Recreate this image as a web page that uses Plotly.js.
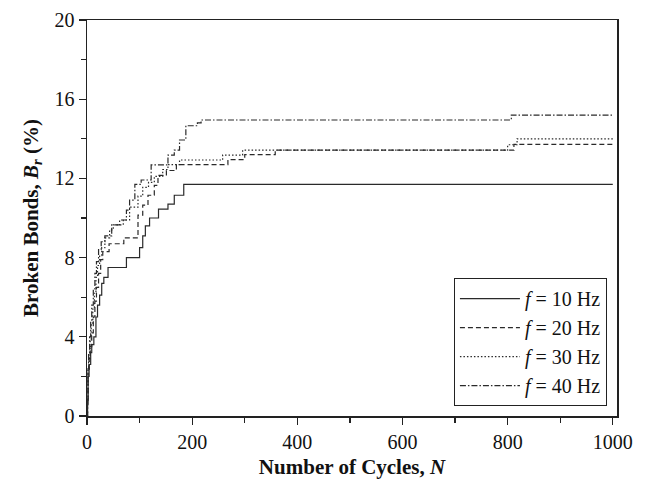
<!DOCTYPE html>
<html>
<head>
<meta charset="utf-8">
<script src="https://cdn.plot.ly/plotly-3.0.1.min.js"></script>
<style>html,body{margin:0;padding:0;background:#fff;}#chart{width:646px;height:488px;}</style>
</head>
<body>
<div id="chart"></div>
<script>
// Number of cycles (x) and broken bonds % (y), step series
var x10 = [0, 1, 2, 4, 7, 9, 13, 17, 20, 24, 28, 32, 40, 75, 100, 106, 111, 119, 136, 154, 166, 184, 1000];
var y10 = [0, 0.6, 2.0, 2.6, 3.2, 3.6, 4.0, 5.0, 5.6, 6.1, 6.7, 7.0, 7.5, 8.0, 8.5, 9.1, 9.6, 10.0, 10.45, 10.7, 11.15, 11.7, 11.7];

var x20 = [0, 1, 2, 4, 6, 9, 12, 15, 18, 22, 26, 30, 42, 70, 97, 106, 116, 128, 135, 151, 170, 268, 300, 358, 812, 1000];
var y20 = [0, 0.7, 2.2, 2.9, 3.5, 4.2, 5.0, 5.8, 6.5, 7.2, 7.9, 8.3, 8.7, 9.0, 10.15, 10.65, 11.15, 11.65, 12.15, 12.4, 12.7, 12.95, 13.2, 13.43, 13.72, 13.72];

var x30 = [0, 1, 2, 4, 6, 8, 11, 14, 17, 20, 24, 28, 34, 43, 50, 69, 81, 97, 106, 117, 128, 144, 154, 176, 258, 296, 800, 818, 1000];
var y30 = [0, 0.8, 2.3, 3.0, 3.8, 4.6, 5.4, 6.2, 7.0, 7.6, 8.1, 8.5, 9.0, 9.4, 9.65, 9.9, 10.55, 11.1, 11.55, 11.8, 12.1, 12.45, 12.7, 12.93, 13.18, 13.43, 13.7, 14.0, 14.0];

var x40 = [0, 1, 2, 3, 5, 7, 9, 12, 15, 18, 22, 27, 34, 47, 62, 75, 81, 91, 103, 122, 154, 166, 176, 188, 210, 217, 807, 1000];
var y40 = [0, 0.9, 2.4, 3.2, 4.0, 4.8, 5.6, 6.4, 7.2, 7.8, 8.4, 8.8, 9.1, 9.65, 9.9, 10.4, 10.9, 11.7, 11.92, 12.68, 13.18, 13.43, 13.94, 14.66, 14.8, 14.95, 15.2, 15.2];

var seriesNames = ["<i>f</i> = 10 Hz", "<i>f</i> = 20 Hz", "<i>f</i> = 30 Hz", "<i>f</i> = 40 Hz"];
var xTicks = [0, 200, 400, 600, 800, 1000];
var yTicks = [0, 4, 8, 12, 16, 20];

var col = "#2a2a2a";
var dashes = ["solid", "5px,3px", "1.5px,2px", "6px,2px,1.5px,2px"];
var xs = [x10, x20, x30, x40], ys = [y10, y20, y30, y40];
var traces = xs.map(function (x, i) {
  return {
    x: x, y: ys[i], name: seriesNames[i], type: "scatter", mode: "lines",
    line: { shape: "hv", color: col, width: 1.2, dash: dashes[i] }
  };
});

var fam = "Liberation Serif, Times New Roman, serif";
var tickFont = { family: fam, size: 20, color: "#111" };
var titleFont = { family: fam, size: 21, color: "#111" };
var layout = {
  width: 646, height: 488,
  margin: { l: 87, r: 29, t: 20, b: 72 },
  paper_bgcolor: "#fff", plot_bgcolor: "#fff",
  font: tickFont,
  showlegend: true,
  legend: {
    x: 0.981, y: 0.025, xanchor: "right", yanchor: "bottom",
    bordercolor: "#222", borderwidth: 1, bgcolor: "#fff",
    font: { family: fam, size: 20, color: "#111" },
    tracegroupgap: 0, itemwidth: 60
  },
  xaxis: {
    range: [0, 1008], tickvals: xTicks, ticktext: xTicks.map(String),
    ticks: "outside", ticklen: 7, tickwidth: 1.3, tickcolor: "#222",
    minor: { dtick: 100, tick0: 0, ticks: "outside", ticklen: 5, tickwidth: 1.3, tickcolor: "#222", showgrid: false },
    showgrid: false, zeroline: false,
    showline: true, linecolor: "#222", linewidth: 1.5, mirror: true,
    tickfont: tickFont,
    title: { text: "<b>Number of Cycles, <i>N</i></b>", font: titleFont, standoff: 8 }
  },
  yaxis: {
    range: [0, 20], tickvals: yTicks, ticktext: yTicks.map(String),
    ticks: "outside", ticklen: 7, tickwidth: 1.3, tickcolor: "#222",
    minor: { dtick: 2, tick0: 0, ticks: "outside", ticklen: 5, tickwidth: 1.3, tickcolor: "#222", showgrid: false },
    showgrid: false, zeroline: false,
    showline: true, linecolor: "#222", linewidth: 1.5, mirror: true,
    tickfont: tickFont,
    title: { text: "<b>Broken Bonds, <i>B<sub>r</sub></i> (%)</b>", font: titleFont, standoff: 10 }
  }
};

Plotly.newPlot("chart", traces, layout, { displayModeBar: false, staticPlot: true });
</script>
</body>
</html>
